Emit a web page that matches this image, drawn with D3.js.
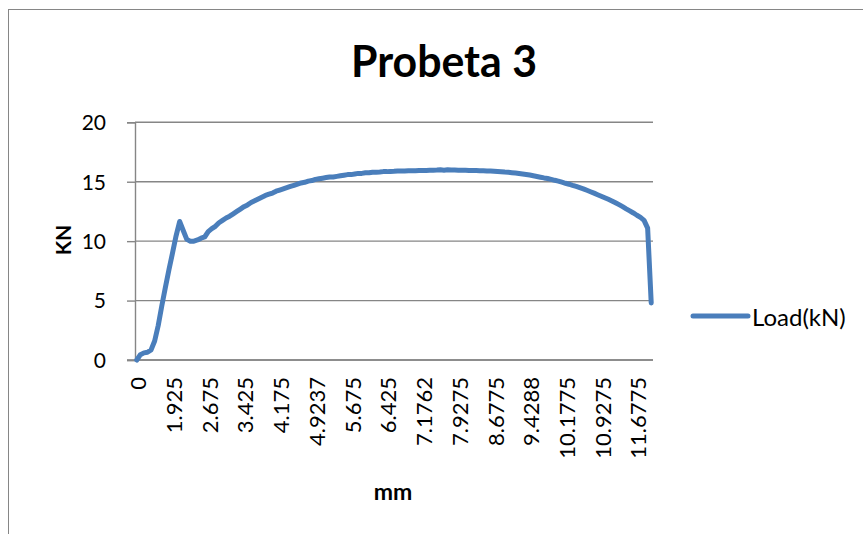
<!DOCTYPE html>
<html>
<head>
<meta charset="utf-8">
<script src="https://cdn.jsdelivr.net/npm/d3@7"></script>
<style>
  html, body { margin: 0; padding: 0; background: #fff; }
  svg { display: block; }
  text { font-family: Lato, "Open Sans", "DejaVu Sans", sans-serif; fill: #000; }
</style>
</head>
<body>
<svg id="chart" width="863" height="534"></svg>
<script>
// Category labels shown on the x axis (mm), one every labelStep samples
const tickLabels = ["0", "1.925", "2.675", "3.425", "4.175", "4.9237", "5.675", "6.425",
  "7.1762", "7.9275", "8.6775", "9.4288", "10.1775", "10.9275", "11.6775"];
const labelStep = 10;

// Load readings (kN), one per sample along the category axis
const loadKN = [
  0, 0.45, 0.6, 0.65, 0.85, 1.6, 2.9, 4.55, 6.1, 7.6,
  9.0, 10.45, 11.65, 10.9, 10.15, 10.0, 10.0, 10.1, 10.25, 10.35,
  10.8, 11.05, 11.25, 11.55, 11.75, 11.95, 12.1, 12.3, 12.5, 12.7,
  12.9, 13.05, 13.25, 13.4, 13.55, 13.7, 13.85, 13.95, 14.05, 14.2,
  14.3, 14.4, 14.5, 14.6, 14.7, 14.8, 14.9, 14.95, 15.05, 15.1,
  15.2, 15.25, 15.3, 15.35, 15.4, 15.4, 15.45, 15.5, 15.55, 15.6,
  15.6, 15.65, 15.7, 15.7, 15.75, 15.75, 15.8, 15.8, 15.82, 15.85,
  15.85, 15.87, 15.88, 15.9, 15.9, 15.9, 15.92, 15.92, 15.93, 15.94,
  15.95, 15.95, 15.96, 15.97, 15.98, 16.0, 15.97, 16.0, 15.98, 15.98,
  15.97, 15.97, 15.96, 15.95, 15.95, 15.94, 15.93, 15.92, 15.9, 15.9,
  15.88, 15.86, 15.84, 15.81, 15.79, 15.76, 15.73, 15.69, 15.65, 15.61,
  15.56, 15.5, 15.44, 15.38, 15.32, 15.27, 15.2, 15.12, 15.05, 14.96,
  14.87, 14.79, 14.69, 14.6, 14.5, 14.4, 14.28, 14.16, 14.04, 13.91,
  13.78, 13.65, 13.52, 13.38, 13.23, 13.07, 12.9, 12.72, 12.55, 12.37,
  12.18, 12.0, 11.75, 11.1, 4.8
];

const yTicks = [0, 5, 10, 15, 20];
const seriesName = "Load(kN)";
const titleText = "Probeta 3";
const xTitle = "mm";
const yTitle = "KN";

const lineColor = "#4A7EBB";
const axisColor = "#868686";

const svg = d3.select("#chart");

// chart frame
svg.append("rect")
  .attr("x", 8.5).attr("y", 9.5)
  .attr("width", 900).attr("height", 600)
  .attr("fill", "#fff").attr("stroke", axisColor).attr("stroke-width", 1);

const plot = { left: 135, right: 653, top: 122.3, bottom: 360 };

const x = d3.scaleBand()
  .domain(d3.range(loadKN.length))
  .range([plot.left, plot.right])
  .paddingInner(0).paddingOuter(0);
const xc = i => x(i) + x.bandwidth() / 2;

const y = d3.scaleLinear().domain([0, 20]).range([plot.bottom, plot.top]);

// horizontal gridlines
svg.append("g")
  .selectAll("line")
  .data(yTicks)
  .join("line")
  .attr("x1", plot.left).attr("x2", plot.right)
  .attr("y1", d => y(d)).attr("y2", d => y(d))
  .attr("stroke", axisColor).attr("stroke-width", 1.4);

// y axis
const yAxis = svg.append("g")
  .attr("transform", `translate(${plot.left},0)`)
  .call(d3.axisLeft(y).tickValues(yTicks).tickSize(8).tickPadding(21).tickFormat(d3.format("d")));
yAxis.select(".domain").attr("stroke", axisColor).attr("stroke-width", 1.4);
yAxis.selectAll(".tick line").attr("stroke", axisColor).attr("stroke-width", 1.4);
yAxis.selectAll(".tick text")
  .style("font-size", "21px")
  .attr("dy", "0.35em");

// x axis (categories)
const xAxis = svg.append("g")
  .attr("transform", `translate(0,${plot.bottom})`)
  .call(d3.axisBottom(x)
    .tickValues(d3.range(0, loadKN.length, labelStep))
    .tickSize(0)
    .tickFormat(i => tickLabels[i / labelStep]));
xAxis.select(".domain").remove();
xAxis.selectAll(".tick text")
  .style("font-size", "22px")
  .attr("text-anchor", "end")
  .attr("dy", null)
  .attr("y", 0)
  .attr("dominant-baseline", "central")
  .attr("transform", "translate(1,17) rotate(-90)");

// x axis line drawn on top of the zero gridline
svg.append("line")
  .attr("x1", plot.left - 8).attr("x2", plot.right)
  .attr("y1", plot.bottom).attr("y2", plot.bottom)
  .attr("stroke", axisColor).attr("stroke-width", 1.4);

// load curve
const line = d3.line()
  .x((d, i) => xc(i))
  .y(d => y(d));
svg.append("path")
  .datum(loadKN)
  .attr("d", line)
  .attr("fill", "none")
  .attr("stroke", lineColor)
  .attr("stroke-width", 5)
  .attr("stroke-linejoin", "round")
  .attr("stroke-linecap", "round");

// title
svg.append("text")
  .attr("x", 444).attr("y", 77)
  .attr("text-anchor", "middle")
  .attr("textLength", 186).attr("lengthAdjust", "spacingAndGlyphs")
  .style("font-size", "44px").style("font-weight", "bold")
  .text(titleText);

// axis titles
svg.append("text")
  .attr("transform", "translate(62,240) rotate(-90)")
  .attr("text-anchor", "middle")
  .attr("dominant-baseline", "central")
  .style("font-size", "21px").style("font-weight", "bold")
  .text(yTitle);

svg.append("text")
  .attr("x", 393).attr("y", 500)
  .attr("text-anchor", "middle")
  .style("font-size", "23px").style("font-weight", "bold")
  .text(xTitle);

// legend
const legend = svg.append("g").attr("transform", "translate(693,316)");
legend.append("line")
  .attr("x1", 0).attr("x2", 55).attr("y1", 0).attr("y2", 0)
  .attr("stroke", lineColor).attr("stroke-width", 5)
  .attr("stroke-linecap", "round");
legend.append("text")
  .attr("x", 59).attr("y", 0)
  .attr("dominant-baseline", "central")
  .style("font-size", "24px")
  .text(seriesName);
</script>
</body>
</html>
